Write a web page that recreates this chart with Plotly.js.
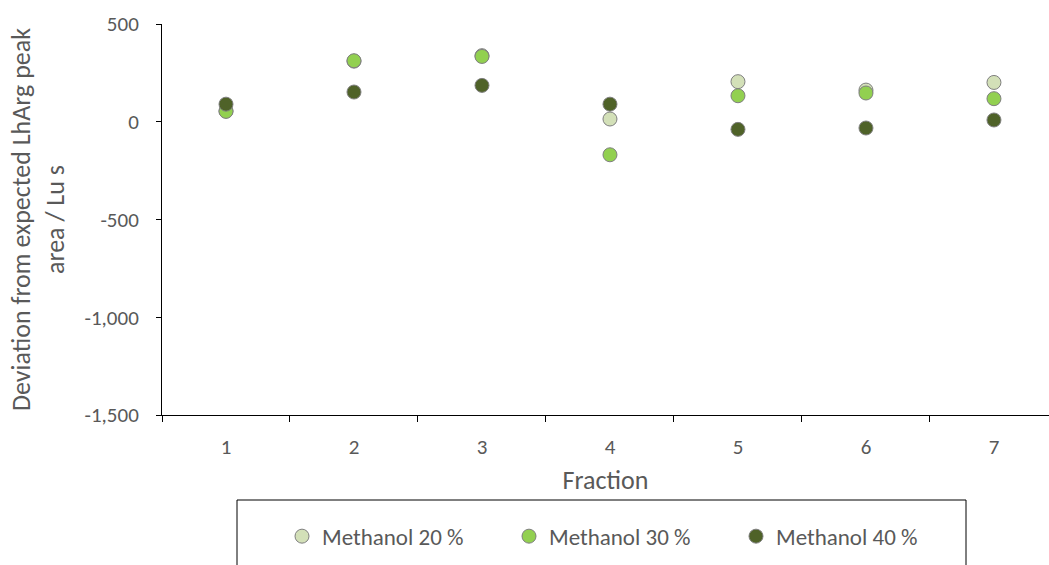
<!DOCTYPE html>
<html>
<head>
<meta charset="utf-8">
<script src="https://cdn.plot.ly/plotly-3.0.1.min.js"></script>
<style>
  html, body { margin: 0; padding: 0; background: #fff; }
  #chart { width: 1049px; height: 565px; }
</style>
</head>
<body>
<div id="chart"></div>
<script>
// Fractions on the category axis
const fractions = ["1", "2", "3", "4", "5", "6", "7"];

// Deviation from expected LhArg peak area (Lu s) per methanol level
const methanol20 = [55, 310, 338, 14, 205, 162, 201];
const methanol30 = [53, 312, 334, -169, 133, 147, 118];
const methanol40 = [90, 152, 186, 90, -39, -32, 9];

const seriesNames = ["Methanol 20 %", "Methanol 30 %", "Methanol 40 %"];

// Value-axis ticks
const yTickVals = [500, 0, -500, -1000, -1500];
const yTickText = ["500", "0", "-500", "-1,000", "-1,500"];

const FONT = "Carlito, Calibri, Lato, sans-serif";
const TEXT = "#595959";
const colors = ["#D3E0B8", "#92D050", "#4F6228"];

function series(name, values, color) {
  return {
    type: "scatter",
    mode: "markers",
    name: name,
    x: fractions,
    y: values,
    marker: { size: 14, color: color, line: { color: "#7F7F7F", width: 1 } },
    hoverinfo: "x+y+name"
  };
}

const data = [
  series(seriesNames[0], methanol20, colors[0]),
  series(seriesNames[1], methanol30, colors[1]),
  series(seriesNames[2], methanol40, colors[2])
];

const layout = {
  width: 1049,
  height: 565,
  margin: { l: 162, r: 0, t: 24, b: 150 },
  paper_bgcolor: "#ffffff",
  plot_bgcolor: "#ffffff",
  font: { family: FONT, color: TEXT, size: 20 },
  showlegend: true,
  xaxis: {
    type: "category",
    categoryorder: "array",
    categoryarray: fractions,
    range: [-0.5, 6.43],
    tickson: "boundaries",
    ticks: "outside",
    ticklen: 6,
    tickcolor: "#000",
    ticklabelstandoff: 13,
    showline: true,
    linecolor: "#000",
    linewidth: 1,
    showgrid: false,
    zeroline: false,
    tickfont: { family: FONT, color: TEXT, size: 21 },
    title: { text: "Fraction", font: { family: FONT, color: TEXT, size: 26 }, standoff: 11 },
    fixedrange: true
  },
  yaxis: {
    range: [-1500, 500],
    tickmode: "array",
    tickvals: yTickVals,
    ticktext: yTickText,
    ticks: "outside",
    ticklen: 5,
    tickcolor: "#000",
    ticklabelstandoff: 13,
    showline: true,
    linecolor: "#000",
    linewidth: 1,
    showgrid: false,
    zeroline: false,
    tickfont: { family: FONT, color: TEXT, size: 21 },
    title: {
      text: "Deviation from expected LhArg peak<br>area / Lu s",
      font: { family: FONT, color: TEXT, size: 26 },
      standoff: 12
    },
    fixedrange: true
  },
  legend: {
    orientation: "h",
    x: (282 - 162) / 887,
    xanchor: "left",
    y: -0.31,
    yanchor: "middle",
    entrywidth: 182,
    font: { family: FONT, color: TEXT, size: 23 },
    bgcolor: "rgba(0,0,0,0)",
    borderwidth: 0,
    itemclick: false,
    itemdoubleclick: false
  },
  shapes: [
    {
      type: "rect",
      xref: "paper",
      yref: "paper",
      x0: (237 - 162) / 887,
      x1: (966 - 162) / 887,
      y0: (415 - 500) / 391,
      y1: (415 - 580) / 391,
      line: { color: "#000", width: 1 },
      fillcolor: "rgba(0,0,0,0)",
      layer: "above"
    }
  ]
};

Plotly.newPlot("chart", data, layout, { displayModeBar: false });
</script>
</body>
</html>
